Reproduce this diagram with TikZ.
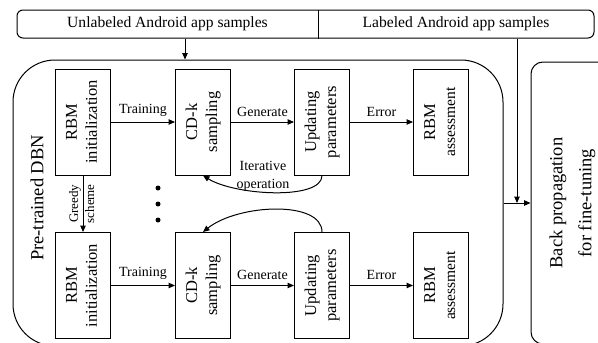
\documentclass[tikz,border=0pt]{standalone}
\usepackage{fontspec}
\setmainfont{Liberation Serif}
\usepackage{graphicx}
\usetikzlibrary{arrows.meta,calc}
\newcommand\vtxt[2]{\rotatebox{90}{\begin{tabular}{@{}c@{}}#1\\#2\end{tabular}}}
\begin{document}
\begin{tikzpicture}[x=1pt,y=-1pt,
  line width=1pt,
  arr/.style={-{Triangle[length=6.5pt,width=5.5pt]}},
  box/.style={draw, minimum width=55pt, minimum height=106pt, inner sep=0pt, font=\fontsize{16.5}{20}\selectfont},
  lab/.style={font=\fontsize{14}{18}\selectfont},
  small/.style={font=\fontsize{13}{15}\selectfont, inner sep=1.5pt},
]
\useasboundingbox (0,0) rectangle (598,343);
\clip (0,0) rectangle (598,343);

% banner
\node[draw, rounded corners=6pt, minimum width=577pt, minimum height=28pt] (ban) at (305.5,24) {};
\coordinate (dv) at (318,24);
\draw (dv |- ban.north) -- (dv |- ban.south);
\node[font=\fontsize{15.6}{18}\selectfont] (unl) at (167.5,24) {Unlabeled Android app samples};
\node[font=\fontsize{15.6}{18}\selectfont] (lbl) at (456,24) {Labeled Android app samples};

% big containers
\node[draw, rounded corners=42pt, minimum width=490pt, minimum height=286pt] (dbn) at (258,203) {};
\node[draw, rounded corners=12pt, minimum width=80pt, minimum height=282pt, font=\fontsize{18.5}{29}\selectfont] (bp) at (571,203)
  {\vtxt{Back propagation}{for fine-tuning}};
\node[font=\fontsize{18.5}{22}\selectfont] (pt) at (37,198) {\rotatebox{90}{Pre-trained DBN}};

% row 1
\node[box] (rbm1) at (83,122) {\vtxt{RBM}{initialization}};
\node[box] (cdk1) at (203,122) {\vtxt{CD-k}{sampling}};
\node[box] (upd1) at (322,122) {\vtxt{Updating}{parameters}};
\node[box] (ass1) at (441,122) {\vtxt{RBM}{\fontsize{15.5}{18}\selectfont assessment}};
% row 2
\node[box] (rbm2) at (83,285.5) {\vtxt{RBM}{initialization}};
\node[box] (cdk2) at (203,285.5) {\vtxt{CD-k}{sampling}};
\node[box] (upd2) at (322,285.5) {\vtxt{Updating}{parameters}};
\node[box] (ass2) at (441,285.5) {\vtxt{RBM}{\fontsize{15.5}{18}\selectfont assessment}};

% row arrows
\draw[arr] (rbm1) -- node[lab,above=2pt] {Training} (cdk1);
\draw[arr] (cdk1) -- node[lab,above=2pt] {Generate} (upd1);
\draw[arr] (upd1) -- node[lab,above=2pt] {Error} (ass1);
\draw[arr] (rbm2) -- node[lab,above=2pt] {Training} (cdk2);
\draw[arr] (cdk2) -- node[lab,above=2pt] {Generate} (upd2);
\draw[arr] (upd2) -- node[lab,above=2pt] {Error} (ass2);

% greedy
\draw[arr] (rbm1) -- node[small,left] {\rotatebox{90}{Greedy}} node[small,right] {\rotatebox{90}{scheme}} (rbm2);

% loops
\draw[arr] (upd1.south) .. controls +(0,25) and +(32,20) .. (cdk1.south);
\node[lab, align=center] (it) at (263,176) {Iterative\\operation};
\draw[arr] (upd2.north) .. controls +(0,-32) and +(35,-28) .. (cdk2.north);

% dots
\node[circle, fill, inner sep=0pt, minimum size=5pt] (d1) at (158,188) {};
\node[circle, fill, inner sep=0pt, minimum size=5pt] (d2) at (158,204) {};
\node[circle, fill, inner sep=0pt, minimum size=5pt] (d3) at (158,220) {};

% input arrows
\coordinate (ua) at (185,24);
\draw[arr] (ua |- ban.south) -- (ua |- dbn.north);
\coordinate (la) at (517,24);
\draw[arr] (la |- ban.south) -- (la |- dbn.east);
\draw[arr] (dbn.east) -- (bp.west);
\end{tikzpicture}
\end{document}
